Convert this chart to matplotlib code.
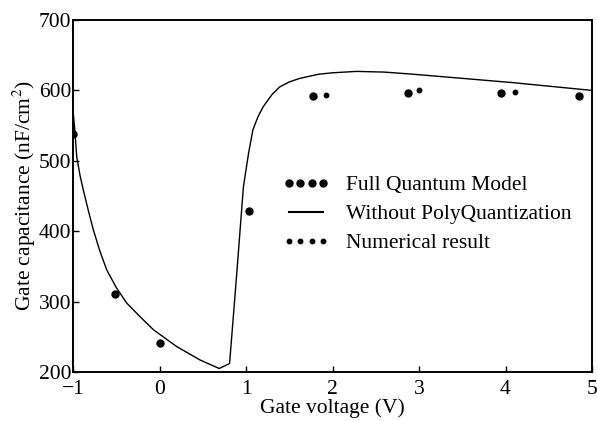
import numpy as np
import matplotlib.pyplot as plt
from matplotlib.lines import Line2D

plt.rcParams['font.family'] = ['Liberation Serif', 'DejaVu Serif']
plt.rcParams['mathtext.fontset'] = 'stix'

# Full Quantum Model (big dots)
fqm_v = [-1.0, -0.51, 0.0, 1.04, 1.78, 2.87, 3.95, 4.85]
fqm_c = [538, 311, 241, 428, 592, 597, 597, 592]

# Numerical result (small dots)
num_v = [1.92, 3.0, 4.11]
num_c = [594, 600, 598]

# Without PolyQuantization (solid line)
line_v = [-1.0, -0.98, -0.957, -0.92, -0.88, -0.82, -0.765, -0.69, -0.61, -0.5,
          -0.38, -0.22, -0.07, 0.2, 0.47, 0.69, 0.81,
          0.89, 0.97, 1.03, 1.08, 1.14, 1.2, 1.3, 1.39, 1.5, 1.62, 1.84,
          2.0, 2.28, 2.6, 2.93, 3.51, 4.09, 4.5, 5.0]
line_c = [572, 545, 506, 480, 458, 428, 402, 372, 345, 320,
          298, 278, 260, 236, 217, 205, 212,
          335, 463, 511, 544, 563, 577, 594, 605, 612, 617, 623,
          625, 627, 626, 623, 617, 611, 606, 600]

fig = plt.figure(figsize=(5.97, 4.21), dpi=100)
ax = fig.add_axes([73 / 597, 49 / 421, 519 / 597, 352 / 421])

ax.plot(line_v, line_c, color='black', lw=1.0)
ax.plot(fqm_v, fqm_c, 'o', color='black', ms=5, ls='none')
ax.plot(num_v, num_c, 'o', color='black', ms=3.2, ls='none')

ax.set_xlim(-1, 5)
ax.set_ylim(200, 700)
ax.set_xticks([-1, 0, 1, 2, 3, 4, 5])
ax.set_xticklabels(['\u22121', '0', '1', '2', '3', '4', '5'])
ax.set_yticks([200, 300, 400, 500, 600, 700])
ax.tick_params(direction='in', length=4, width=1, labelsize=15.5, pad=1)
ax.tick_params(axis='x', pad=5.5)
for s in ax.spines.values():
    s.set_linewidth(1.4)

ax.set_xlabel('Gate voltage (V)', fontsize=15.5, labelpad=0)
ax.set_ylabel('Gate capacitance (nF/cm$^2$)', fontsize=15.5, labelpad=1)

handles = [
    Line2D([], [], color='black', marker='o', ms=5, ls='none'),
    Line2D([], [], color='black', lw=1.5),
    Line2D([], [], color='black', marker='o', ms=3.2, ls='none'),
]
labels = ['Full Quantum Model', 'Without PolyQuantization', 'Numerical result']
ax.legend(handles, labels, numpoints=4, frameon=False, fontsize=15.5,
          loc='center left', bbox_to_anchor=(0.403, 0.448), handlelength=2.2,
          handletextpad=0.75, labelspacing=0.42, borderpad=0, borderaxespad=0)

fig.savefig('out.png', dpi=100)
